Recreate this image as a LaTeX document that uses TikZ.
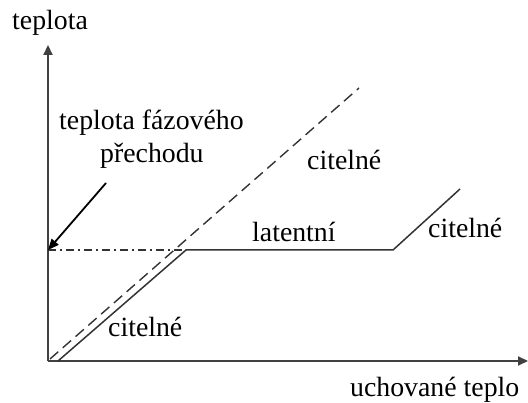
\documentclass[tikz,border=0pt]{standalone}
\usepackage{fontspec}
\setmainfont{Liberation Serif}
\usetikzlibrary{arrows.meta}
\begin{document}
\begin{tikzpicture}[x=1pt,y=-1pt,
    lbl/.style={anchor=base west,inner sep=0pt,font=\fontsize{27.8}{32}\selectfont},
    osa/.style={line width=2.2pt,draw=black!75,-{Triangle[length=10pt,width=9pt]}},
    krivka/.style={line width=1.5pt,draw=black!80}]
  \useasboundingbox (0,0) rectangle (528,403);
  % osy
  \coordinate (O) at (48,361);
  \coordinate (ytop) at (48,45);
  \coordinate (xend) at (528,361);
  \draw[osa] (O) -- (ytop);
  \draw[osa] (O) -- (xend);
  % body krivky
  \coordinate (s0) at (58,361);
  \coordinate (s1) at (186,250);
  \coordinate (s2) at (393,250);
  \coordinate (s3) at (460,189);
  \coordinate (d0) at (50,359);
  \coordinate (d1) at (359,88);
  \coordinate (f0) at (48,250);
  \draw[krivka] (s0) -- (s1) -- (s2) -- (s3);
  \draw[krivka,line width=1.4pt,dash pattern=on 11pt off 6pt] (d0) -- (d1);
  \draw[krivka,line width=1.3pt,dash pattern=on 8pt off 4pt on 2pt off 4pt] (f0) -- (s1);
  % popisky
  \node[lbl] (teplota) at (12,30) {teplota};
  \node[lbl] (faze1) at (59,130) {teplota fázového};
  \node[lbl] (faze2) at (100,163) {přechodu};
  \node[lbl] (cit1) at (307,170) {citelné};
  \node[lbl] (lat) at (252,242) {latentní};
  \node[lbl] (cit2) at (428,238) {citelné};
  \node[lbl] (cit3) at (108,337) {citelné};
  \node[lbl] (teplo) at (350,397) {uchované teplo};
  \coordinate (sip) at (106,183);
  \draw[line width=1.8pt,-{Triangle[length=11pt,width=9pt]}] (sip) -- (f0);
\end{tikzpicture}
\end{document}
